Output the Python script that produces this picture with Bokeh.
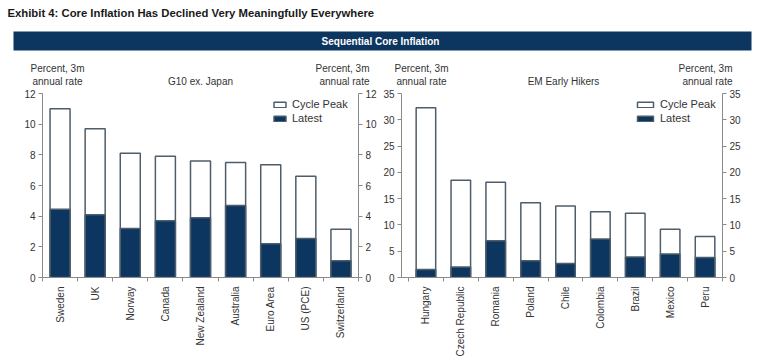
import math
from bokeh.plotting import figure
from bokeh.models import (Range1d, LinearAxis, FixedTicker, Label, Legend, LegendItem,
                          ColumnDataSource, BoxAnnotation)
from bokeh.layouts import column, row
from bokeh.embed import file_html
from bokeh.resources import INLINE

# ---------------- data ----------------
g10_countries = ["Sweden", "UK", "Norway", "Canada", "New Zealand", "Australia",
                 "Euro Area", "US (PCE)", "Switzerland"]
g10_peak = [11.0, 9.7, 8.1, 7.9, 7.6, 7.5, 7.35, 6.6, 3.15]
g10_latest = [4.45, 4.1, 3.2, 3.7, 3.9, 4.7, 2.2, 2.55, 1.1]
g10_yticks = [0, 2, 4, 6, 8, 10, 12]

em_countries = ["Hungary", "Czech Republic", "Romania", "Poland", "Chile", "Colombia",
                "Brazil", "Mexico", "Peru"]
em_peak = [32.3, 18.5, 18.1, 14.2, 13.6, 12.5, 12.2, 9.2, 7.8]
em_latest = [1.5, 2.0, 7.0, 3.2, 2.65, 7.3, 3.9, 4.45, 3.8]
em_yticks = [0, 5, 10, 15, 20, 25, 30, 35]

title_text = "Exhibit 4: Core Inflation Has Declined Very Meaningfully Everywhere"
banner_text = "Sequential Core Inflation"
unit_line1 = "Percent, 3m"
unit_line2 = "annual rate"
g10_subtitle = "G10 ex. Japan"
em_subtitle = "EM Early Hikers"
legend_labels = ["Cycle Peak", "Latest"]

# ---------------- styles ----------------
NAVY = "#0c3660"
OUTLINE = "#4d5d6b"
AXIS = "#8a8a8a"
TXT = "#333333"
FONT = "Liberation Sans, Arial, sans-serif"

# ---------------- header (title, banner, panel captions) ----------------
HW, HH = 758, 88
hdr = figure(width=HW, height=HH, x_range=Range1d(0, HW), y_range=Range1d(0, HH),
             output_backend="svg", toolbar_location=None, min_border=0)
hdr.axis.visible = False
hdr.grid.visible = False
hdr.outline_line_color = None


def htext(x, y_from_top, text, align="left", size="10px", color=TXT, style="normal", font=FONT):
    hdr.add_layout(Label(x=x, y=HH - y_from_top, text=text, text_font=font,
                         text_font_style=style, text_font_size=size, text_color=color,
                         text_baseline="middle", text_align=align))


htext(7, 12.5, title_text, size="11.3px", color="#1a1a1a", style="bold")
hdr.add_layout(BoxAnnotation(left=13, right=751, bottom=HH - 50, top=HH - 31, fill_color=NAVY,
                             fill_alpha=1.0, line_color=None))
htext(380, 40.5, banner_text, align="center", size="10px", color="white", style="bold")

# left panel captions
htext(57, 68, unit_line1, align="center")
htext(57, 81, unit_line2, align="center")
htext(200, 81, g10_subtitle, align="center")
htext(369, 68, unit_line1, align="right")
htext(369, 81, unit_line2, align="right")
# right panel captions
htext(421, 68, unit_line1, align="center")
htext(421, 81, unit_line2, align="center")
htext(563, 81, em_subtitle, align="center")
htext(732, 68, unit_line1, align="right")
htext(732, 81, unit_line2, align="right")


def panel(cats, peak, latest, yticks, xr, width, bl, br, legend_x, glyph_w, bar_w):
    ymax = yticks[-1]
    p = figure(width=width, height=361 - HH, x_range=xr, y_range=Range1d(0, ymax),
               output_backend="svg", toolbar_location=None,
               min_border_left=bl, min_border_right=br, min_border_top=5, min_border_bottom=84)
    p.grid.visible = False
    p.outline_line_color = None
    xs = list(range(len(cats)))
    src = ColumnDataSource(dict(x=xs, peak=peak, latest=latest))
    r1 = p.vbar(x="x", top="peak", bottom=0, width=bar_w, source=src, fill_color="white",
                line_color=OUTLINE, line_width=1.5)
    r2 = p.vbar(x="x", top="latest", bottom=0, width=bar_w, source=src, fill_color=NAVY,
                line_color=OUTLINE, line_width=1.5)

    xa = p.xaxis[0]
    xa.ticker = FixedTicker(ticks=xs, minor_ticks=[i - 0.5 for i in range(len(cats) + 1)])
    xa.major_label_overrides = {i: c for i, c in zip(xs, cats)}
    xa.major_label_orientation = math.pi / 2
    xa.major_tick_out = 0
    xa.major_tick_in = 0
    xa.minor_tick_out = 4
    xa.minor_tick_in = 0
    xa.minor_tick_line_color = AXIS
    xa.axis_line_color = AXIS
    xa.major_label_text_font = FONT
    xa.major_label_text_font_size = "10px"
    xa.major_label_text_color = TXT
    xa.major_label_standoff = 5

    ya = p.yaxis[0]
    yr = LinearAxis()
    p.add_layout(yr, "right")
    for a in (ya, yr):
        a.ticker = FixedTicker(ticks=yticks, minor_ticks=[])
        a.major_tick_out = 4
        a.major_tick_in = 0
        a.minor_tick_out = 0
        a.minor_tick_in = 0
        a.axis_line_color = AXIS
        a.major_tick_line_color = AXIS
        a.major_label_text_font = FONT
        a.major_label_text_font_size = "10px"
        a.major_label_text_color = TXT
        a.major_label_standoff = 3

    leg = Legend(items=[LegendItem(label=legend_labels[0], renderers=[r1]),
                        LegendItem(label=legend_labels[1], renderers=[r2])],
                 location=(legend_x, 152))
    leg.border_line_color = None
    leg.background_fill_alpha = 0
    leg.padding = 0
    leg.margin = 0
    leg.spacing = 0
    leg.label_height = 14
    leg.glyph_height = 7
    leg.glyph_width = glyph_w
    leg.label_standoff = 5
    leg.label_text_font = FONT
    leg.label_text_font_size = "11px"
    leg.label_text_color = TXT
    p.add_layout(leg)
    return p


p1 = panel(g10_countries, g10_peak, g10_latest, g10_yticks, Range1d(-0.5, 8.5),
           380, 42, 22, 230, 15, 0.57)
p2 = panel(em_countries, em_peak, em_latest, em_yticks, Range1d(-0.7, 8.5),
           378, 21, 36, 234, 20, 0.56)

layout = column(hdr, row(p1, p2))
open("out.html", "w").write(file_html(layout, INLINE))
